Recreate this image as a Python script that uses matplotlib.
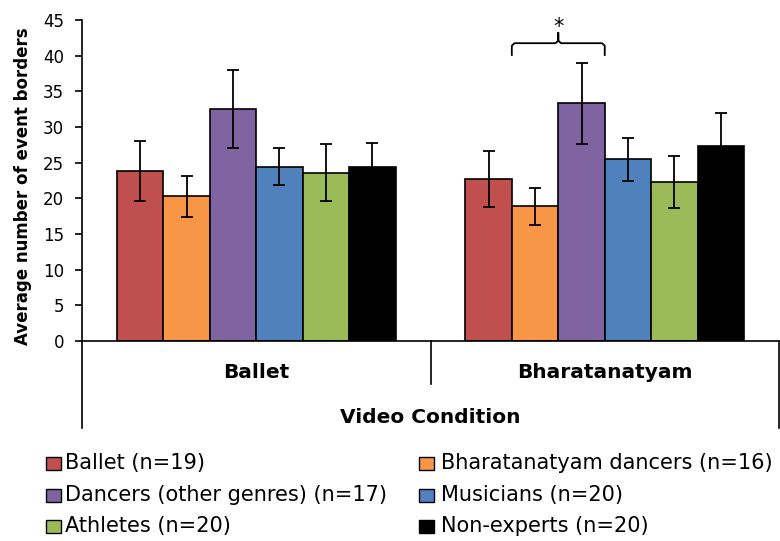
import matplotlib.pyplot as plt
from matplotlib.patches import Rectangle
import numpy as np

# conditions vidéo (axe des x) et groupes de participants
conditions = ['Ballet', 'Bharatanatyam']
groupes = ['Ballet (n=19)', 'Bharatanatyam dancers (n=16)', 'Dancers (other genres) (n=17)',
           'Musicians (n=20)', 'Athletes (n=20)', 'Non-experts (n=20)']
couleurs = ['#C0504D', '#F79646', '#8064A2', '#4F81BD', '#9BBB59', '#000000']

# moyennes et barres d'erreur, un élément par groupe
ballet_moy = [23.8, 20.3, 32.5, 24.4, 23.6, 24.4]
ballet_err = [4.2, 2.9, 5.5, 2.6, 4.0, 3.3]
bharata_moy = [22.7, 18.9, 33.3, 25.5, 22.3, 27.3]
bharata_err = [3.9, 2.6, 5.7, 3.0, 3.6, 4.6]

W, H = 780, 541
def fx(px):
    return px / W
def fy(py):
    return 1 - py / H

plt.rcParams['font.family'] = 'DejaVu Sans'
fig = plt.figure(figsize=(W / 100, H / 100), dpi=100)
ax = fig.add_axes([fx(82), fy(341), fx(779) - fx(82), fy(20) - fy(341)])

# tracé des barres
centres = np.arange(len(conditions)) + 0.5
w = 0.8 / len(groupes)
for i in range(len(groupes)):
    ax.bar(centres + (i - 2.5) * w, [ballet_moy[i], bharata_moy[i]], w,
           yerr=[ballet_err[i], bharata_err[i]], color=couleurs[i],
           edgecolor='black', linewidth=1.2, capsize=4,
           error_kw=dict(elinewidth=1.3, capthick=1.3, ecolor='black'))

ax.set_xlim(0, 2)
ax.set_ylim(0, 45)
ax.set_yticks(range(0, 46, 5))
ax.set_xticks([])
ax.tick_params(axis='y', direction='out', length=5, width=1.2, pad=8, labelsize=12)
for s in ['top', 'right']:
    ax.spines[s].set_visible(False)
ax.spines['left'].set_linewidth(1.2)
ax.spines['bottom'].set_linewidth(1.2)

# cadre des catégories sous l'axe
tr = ax.get_xaxis_transform()
ax.plot([0, 0], [0, -0.271], transform=tr, color='black', lw=1.2, clip_on=False)
ax.plot([2, 2], [0, -0.271], transform=tr, color='black', lw=1.2, clip_on=False)
ax.plot([1, 1], [0, -0.134], transform=tr, color='black', lw=1.2, clip_on=False)
for c, nom in zip(centres, conditions):
    ax.text(c, -(378.3 - 341) / 321, nom, transform=tr, ha='center', va='baseline',
            fontsize=14.5, fontweight='bold')
ax.text(1, -(422.7 - 341) / 321, 'Video Condition', transform=tr, ha='center',
        va='baseline', fontsize=14.5, fontweight='bold')

fig.text(fx(22.6), fy(186), 'Average number of event borders', rotation=90,
         ha='center', va='center', fontsize=12, fontweight='bold')

# accolade de significativité
x0 = centres[1] + (1 - 2.5) * w - w / 2
x1 = centres[1] + (2 - 2.5) * w + w / 2
xm = (x0 + x1) / 2
d = 0.008
bx = [x0, x0, x0 + d, xm - d, xm, xm, xm, xm + d, x1 - d, x1, x1]
by = [40.1, 41.4, 41.75, 41.75, 42.1, 43.2, 42.1, 41.75, 41.75, 41.4, 40.1]
ax.plot(bx, by, color='black', lw=1.3, clip_on=False)
ax.text(xm, 42.6, '*', ha='center', va='bottom', fontsize=15, clip_on=False)

# légende placée à la main
lignes = [469.3, 500.6, 531.9]
cols = [(46, 65), (419, 441)]
for k, (nom, coul) in enumerate(zip(groupes, couleurs)):
    r, c = k // 2, k % 2
    mx, tx = cols[c]
    yb = lignes[r]
    fig.add_artist(Rectangle((fx(mx), fy(yb + 1)), fx(15), 13 / H, facecolor=coul,
                             edgecolor='black', linewidth=1.0, transform=fig.transFigure))
    fig.text(fx(tx), fy(yb), nom, ha='left', va='baseline', fontsize=15)

plt.savefig('out.png', dpi=100)
